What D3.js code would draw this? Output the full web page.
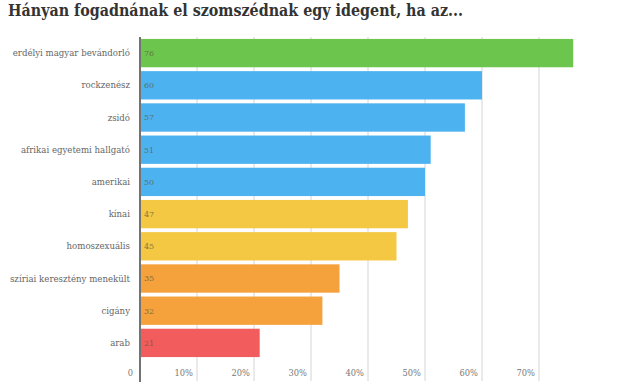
<!DOCTYPE html>
<html><head><meta charset="utf-8">
<script src="https://cdn.jsdelivr.net/npm/d3@7"></script>
<style>
body{margin:0;background:#fff;}
text{font-family:"DejaVu Serif",serif;}
</style></head>
<body><svg id="c" width="620" height="385"></svg>
<script>
const categories = ["erdélyi magyar bevándorló","rockzenész","zsidó","afrikai egyetemi hallgató","amerikai","kínai","homoszexuális","szíriai keresztény menekült","cigány","arab"];
const values = [76,60,57,51,50,47,45,35,32,21];
const colors = ["#6cc64e","#4cb2f0","#4cb2f0","#4cb2f0","#4cb2f0","#f4c842","#f4c842","#f5a13c","#f5a13c","#f25c5c"];
const tickValues = [0,10,20,30,40,50,60,70];
const tickLabels = ["0","10%","20%","30%","40%","50%","60%","70%"];
const title = "Hányan fogadnának el szomszédnak egy idegent, ha az...";

const svg = d3.select("#c");
const x = d3.scaleLinear().domain([0,70]).range([140,539]);
const y = d3.scaleBand().domain(categories).range([37,359]).paddingInner(0.12).paddingOuter(0.06);

svg.append("g").selectAll("line").data(tickValues.slice(1)).join("line")
  .attr("x1",d=>x(d)).attr("x2",d=>x(d)).attr("y1",37).attr("y2",381)
  .attr("stroke","#d4d4d4").attr("stroke-width",1);

svg.append("g").selectAll("rect").data(values).join("rect")
  .attr("x",x(0)+1).attr("y",(d,i)=>y(categories[i]))
  .attr("width",d=>x(d)-x(0)-1).attr("height",y.bandwidth())
  .attr("fill",(d,i)=>colors[i]);

svg.append("g").selectAll("text").data(values).join("text")
  .attr("x",x(0)+4).attr("y",(d,i)=>y(categories[i])+y.bandwidth()/2)
  .attr("dy","0.35em").attr("font-size",8).attr("fill","#5a5a3a").attr("fill-opacity",0.75)
  .text(d=>d);

svg.append("g").selectAll("text").data(categories).join("text")
  .attr("x",x(0)-10).attr("y",d=>y(d)+y.bandwidth()/2)
  .attr("dy","0.35em").attr("text-anchor","end").attr("font-size",8.6).attr("fill","#666")
  .text(d=>d);

svg.append("g").selectAll("text").data(tickValues).join("text")
  .attr("x",(d,i)=>i===0? x(d)-7 : x(d)-4).attr("y",376)
  .attr("text-anchor","end").attr("font-size",8.3).attr("fill","#777")
  .text((d,i)=>tickLabels[i]);

svg.append("line").attr("x1",x(0)).attr("x2",x(0)).attr("y1",37).attr("y2",382)
  .attr("stroke","#444").attr("stroke-width",1.5);

const t = svg.append("text").attr("x",8).attr("y",16).attr("font-size",16).attr("font-weight","bold")
  .attr("fill","#333").text(title);
t.attr("textLength",455).attr("lengthAdjust","spacingAndGlyphs");
</script></body></html>
